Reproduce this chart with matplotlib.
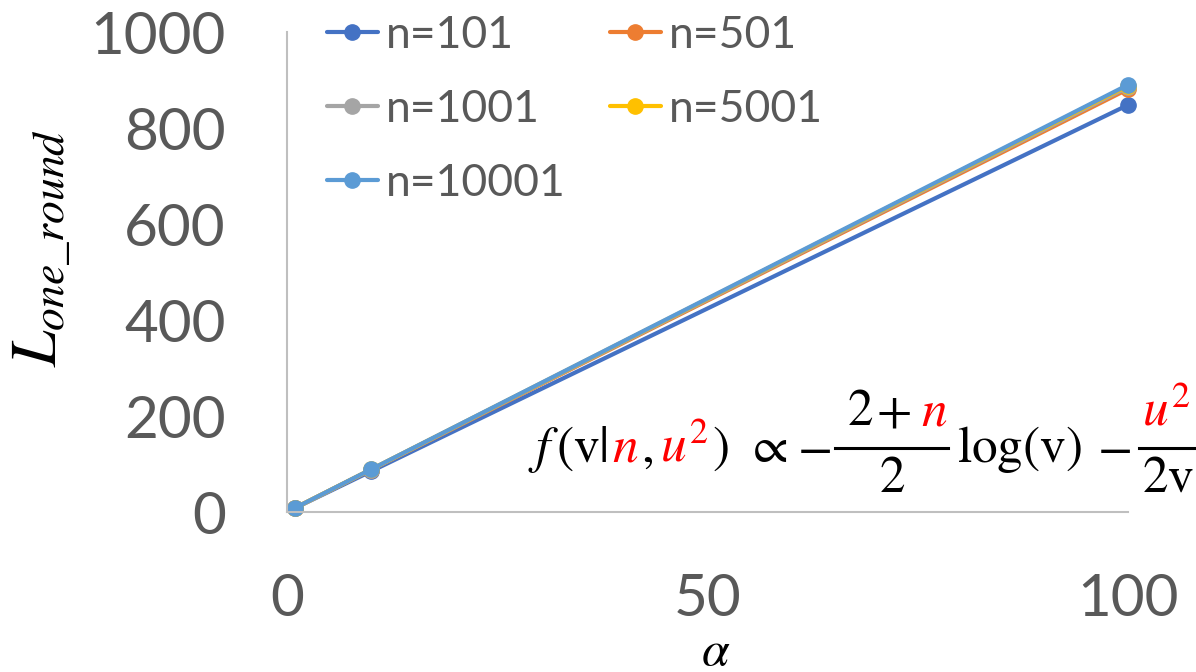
import matplotlib
matplotlib.use("Agg")
import matplotlib.pyplot as plt
from matplotlib.lines import Line2D

plt.rcParams['font.family'] = ['Lato', 'DejaVu Sans']
plt.rcParams['mathtext.fontset'] = 'stix'

# data
alpha = [1, 10, 100]
labels = ["n=101", "n=501", "n=1001", "n=5001", "n=10001"]
l_101 = [8.5, 84.8, 848]
l_501 = [8.8, 88.1, 881]
l_1001 = [8.85, 88.5, 885]
l_5001 = [8.88, 88.8, 888]
l_10001 = [8.9, 88.9, 890]
series = [l_101, l_501, l_1001, l_5001, l_10001]
colors = ["#4472C4", "#ED7D31", "#A5A5A5", "#FFC000", "#5B9BD5"]
xticks = [0, 50, 100]
yticks = [0, 200, 400, 600, 800, 1000]

W, H = 1196, 672
fig = plt.figure(figsize=(W / 100, H / 100), dpi=100)
ax = fig.add_axes([287 / W, 1 - 512 / H, (1128 - 287) / W, (512 - 32) / H])

lines = []
for vals, c, lab in zip(series, colors, labels):
    ln, = ax.plot(alpha, vals, color=c, lw=3, marker='o', markersize=11,
                  label=lab, solid_capstyle='round', clip_on=False)
    lines.append(ln)

ax.set_xlim(0, 100)
ax.set_ylim(0, 1000)
ax.set_xticks(xticks)
ax.set_yticks(yticks)
ax.tick_params(length=0, pad=44, labelsize=42, labelcolor="#595959")
for s in ["top", "right"]:
    ax.spines[s].set_visible(False)
for s in ["left", "bottom"]:
    ax.spines[s].set_color("#BFBFBF")
    ax.spines[s].set_linewidth(1.5)

# legend filled row-wise like the original
order = [0, 2, 4, 1, 3]
leg = fig.legend([lines[i] for i in order], [labels[i] for i in order],
                 ncol=2, loc='upper left', bbox_to_anchor=(327 / W, 1 - 15 / H),
                 frameon=False, fontsize=32, handlelength=1.14, handletextpad=0.18,
                 columnspacing=1.0, labelspacing=0.74, borderpad=0, borderaxespad=0)
for t in leg.get_texts():
    t.set_color("#595959")

# axis titles
fig.text(42 / W, 1 - 248 / H, r'$L_{one\_round}$', rotation=90, ha='center',
         va='center', fontsize=47)
fig.text(716 / W, 1 - 665 / H, r'$\alpha$', ha='center', va='baseline', fontsize=36)

# formula, placed piece by piece so n and u^2 can be red
FS = 37
red = "#FF0000"


def put(x, y, s, color='black', ha='left'):
    fig.text(x / W, 1 - y / H, s, ha=ha, va='baseline', fontsize=FS, color=color)


def bar(x0, x1):
    fig.add_artist(Line2D([x0 / W, x1 / W], [1 - 448 / H, 1 - 448 / H],
                          color='black', lw=2.2))


put(528, 462, r'$f\,(\mathrm{v}|$')
put(612, 462, r'$n$', red)
put(641, 462, r'$,$')
put(660, 462, r'$u^2$', red)
put(712, 462, r'$)$')
put(745, 462, r'$\propto$')
put(797, 462, r'$-$')
put(847, 425, r'$2$')
put(876, 425, r'$+$')
put(921, 425, r'$n$', red)
put(892, 492, r'$2$', ha='center')
bar(835, 948)
put(957, 462, r'$\log(\mathrm{v})$')
put(1097, 462, r'$-$')
put(1142, 425, r'$u^2$', red)
put(1142, 492, r'$2\mathrm{v}$')
bar(1139, 1200)

fig.savefig("out.png", dpi=100)
